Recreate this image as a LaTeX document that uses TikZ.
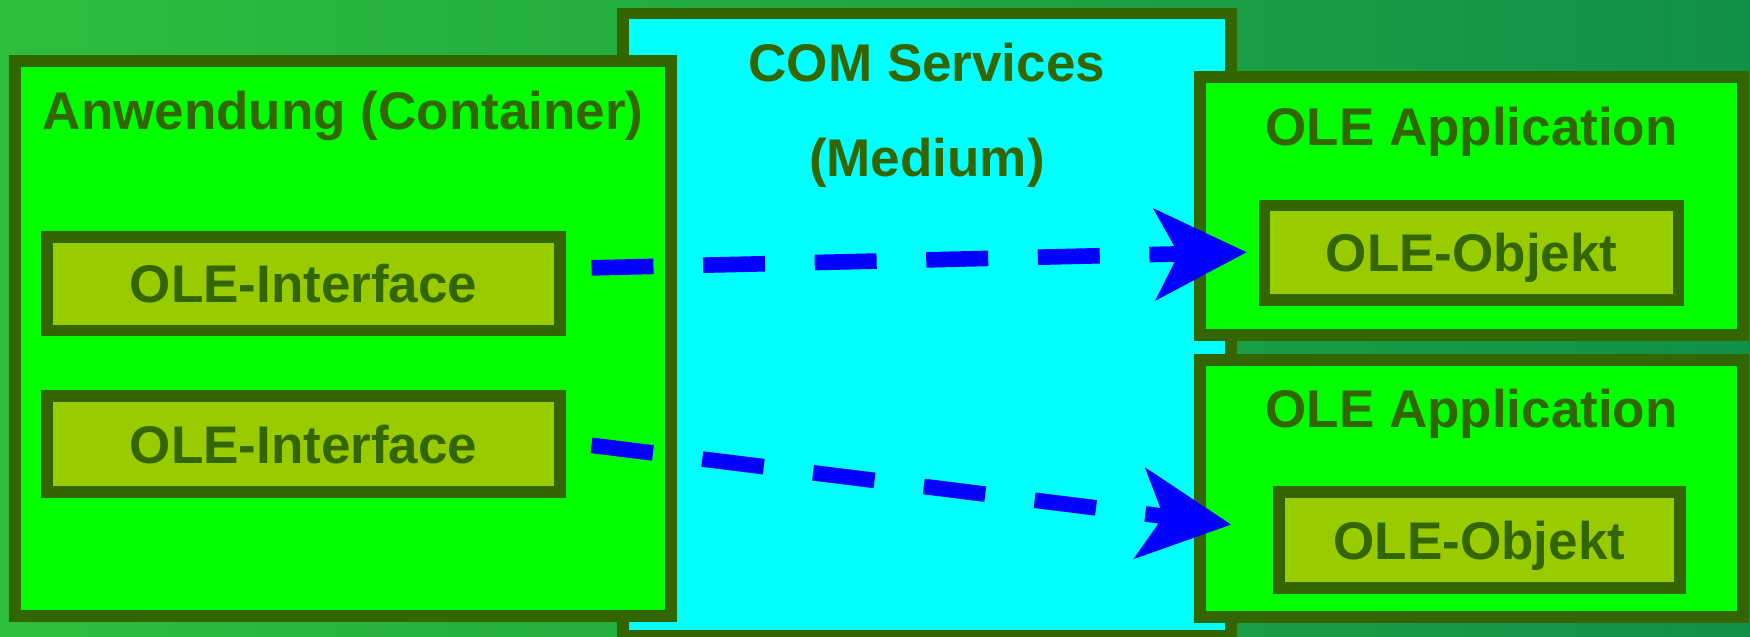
\documentclass[tikz,border=0pt]{standalone}
\usepackage{fontspec}
\setmainfont{Liberation Sans}
\usetikzlibrary{arrows.meta}

\definecolor{frameGreen}{HTML}{336600}
\definecolor{boxGreen}{HTML}{00FF00}
\definecolor{innerGreen}{HTML}{99CC00}
\definecolor{comCyan}{HTML}{00FFFF}
\definecolor{flowBlue}{HTML}{0000FF}
\definecolor{bgLeft}{RGB}{46,190,60}
\definecolor{bgRight}{RGB}{16,145,72}

\newcommand{\diagfont}{\bfseries\fontsize{23.75pt}{28pt}\selectfont}

\begin{document}
\begin{tikzpicture}[x=0.5pt,y=-0.5pt,
  box/.style={draw=frameGreen, line width=5.25pt, fill=boxGreen, inner sep=0pt},
  panel/.style={box, fill=innerGreen, text=frameGreen, font=\diagfont,
                text height=17pt, text depth=0pt},
  title/.style={text=frameGreen, font=\diagfont, anchor=base, inner sep=0pt},
  flow/.style={draw=flowBlue, line width=7pt, dash pattern=on 27.75pt off 22.25pt,
               -{Stealth[length=41.5pt,width=41.5pt,inset=11pt,line width=0pt]}}
]
\useasboundingbox (0,0) rectangle (1568,570);
\clip (0,0) rectangle (1568,570);

% background
\shade[left color=bgLeft, right color=bgRight] (0,0) rectangle (1568,570);

% COM layer in the middle
\node[box, fill=comCyan, minimum width=272.5pt, minimum height=279pt] (com) at (830.5,291) {};

% container application
\node[box, minimum width=294pt, minimum height=248.75pt] (cont) at (307.5,303.25) {};

% OLE applications
\node[box, minimum width=243.5pt, minimum height=115.5pt] (app1) at (1318.5,184.5) {};
\node[box, minimum width=243.5pt, minimum height=115.25pt] (app2) at (1318.5,437.75) {};

% interfaces and objects
\node[panel, minimum width=230pt, minimum height=41.75pt] (if1) at (272,254.25) {OLE-Interface};
\node[panel, minimum width=230pt, minimum height=43pt] (if2) at (272,398) {OLE-Interface};
\node[panel, minimum width=185.5pt, minimum height=42.5pt] (obj1) at (1318.5,226.5) {OLE-Objekt};
\node[panel, minimum width=179.5pt, minimum height=43pt] (obj2) at (1325.5,484) {OLE-Objekt};

% titles
\node[title] (contT) at (307.5,116) {Anwendung (Container)};
\node[title] (comT1) at (830.5,73) {COM Services};
\node[title] (comT2) at (830.5,158) {(Medium)};
\node[title] (app1T) at (1318.5,130) {OLE Application};
\node[title] (app2T) at (1318.5,383) {OLE Application};

% calls through COM
\draw[flow] ([shift={(22.75,-14.25)}]if1.east) -- ([shift={(-10.75,-0.5)}]obj1.west);
\draw[flow] ([shift={(22.75,1)}]if2.east) -- ([shift={(-37.75,-14)}]obj2.west);
\end{tikzpicture}
\end{document}
